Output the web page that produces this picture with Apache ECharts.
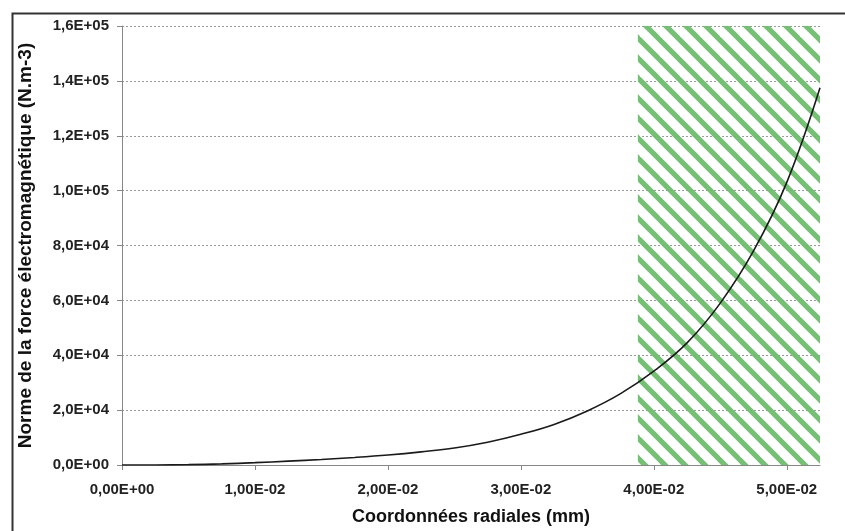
<!DOCTYPE html>
<html>
<head>
<meta charset="utf-8">
<script src="https://cdn.jsdelivr.net/npm/echarts@6/dist/echarts.min.js"></script>
<style>
html,body{margin:0;padding:0;background:#fff;}
#chart{width:845px;height:531px;}
</style>
</head>
<body>
<div id="chart"></div>
<script>
// ---- data ----
const xValues = [0, 0.0025, 0.005, 0.0075, 0.01, 0.0125, 0.015, 0.0175, 0.02, 0.0225, 0.025, 0.0275, 0.03, 0.0325, 0.035, 0.0375, 0.04, 0.0425, 0.045, 0.0475, 0.05, 0.0525];
const yValues = [0, 20, 120, 400, 850, 1400, 2000, 2750, 3650, 4800, 6200, 8300, 11200, 14800, 19700, 26000, 34200, 44500, 59000, 78000, 103000, 137500];
const xTicks = [0, 0.01, 0.02, 0.03, 0.04, 0.05];
const hatchRange = [0.0388, 0.0525];
const xAxisName = 'Coordonnées radiales (mm)';
const yAxisName = 'Norme de la force électromagnétique (N.m-3)';

function sci(v, dec) {
  if (v === 0) return (0).toFixed(dec).replace('.', ',') + 'E+00';
  let e = Math.floor(Math.log10(Math.abs(v)) + 1e-9);
  let m = v / Math.pow(10, e);
  let s = m.toFixed(dec).replace('.', ',');
  let es = (e < 0 ? '-' : '+') + String(Math.abs(e)).padStart(2, '0');
  return s + 'E' + es;
}

// hatch pattern
const pc = document.createElement('canvas');
pc.width = 20; pc.height = 20;
const ctx = pc.getContext('2d');
ctx.strokeStyle = '#6ebd6e';
ctx.lineWidth = 5.2;
for (let o = -20; o <= 20; o += 20) {
  ctx.beginPath();
  ctx.moveTo(o - 5, -5);
  ctx.lineTo(o + 25, 25);
  ctx.stroke();
}

const chart = echarts.init(document.getElementById('chart'), null, {renderer: 'canvas'});
const font = 'Liberation Sans, Arial, sans-serif';
chart.setOption({
  animation: false,
  backgroundColor: '#fff',
  grid: {left: 122, right: 25, top: 26, bottom: 66, containLabel: false},
  graphic: [{
    type: 'rect', left: 10, top: 11, silent: true,
    shape: {width: 900, height: 600},
    style: {fill: 'none', stroke: '#333', lineWidth: 2}
  }],
  xAxis: {
    type: 'value', min: 0, max: hatchRange[1], interval: 0.01,
    name: xAxisName, nameLocation: 'middle', nameGap: 43,
    nameTextStyle: {fontFamily: font, fontWeight: 'bold', fontSize: 18, color: '#111'},
    axisLine: {show: true, lineStyle: {color: '#888', width: 1}},
    axisTick: {show: true, length: 5, lineStyle: {color: '#888'}, customValues: xTicks},
    axisLabel: {margin: 17, fontFamily: font, fontWeight: 'bold', fontSize: 15, color: '#222',
      customValues: xTicks, formatter: v => sci(v, 2)},
    splitLine: {show: false}
  },
  yAxis: {
    type: 'value', min: 0, max: 160000, interval: 20000,
    name: yAxisName, nameLocation: 'middle', nameGap: 87,
    nameTextStyle: {fontFamily: font, fontWeight: 'bold', fontSize: 19, color: '#111'},
    axisLine: {show: true, lineStyle: {color: '#888', width: 1}},
    axisTick: {show: true, length: 5, lineStyle: {color: '#888'}},
    axisLabel: {margin: 13, fontFamily: font, fontWeight: 'bold', fontSize: 15, color: '#222',
      formatter: v => sci(v, 1)},
    splitLine: {show: true, lineStyle: {color: '#999', type: [2, 2], width: 1}}
  },
  series: [{
    type: 'line',
    data: xValues.map((x, i) => [x, yValues[i]]),
    smooth: 0.4,
    symbol: 'none',
    lineStyle: {color: '#1a1a1a', width: 1.6},
    markArea: {
      silent: true,
      itemStyle: {color: {image: pc, repeat: 'repeat'}, opacity: 0.95},
      data: [[{coord: [hatchRange[0], 0]}, {coord: [hatchRange[1], 160000]}]]
    }
  }]
});
</script>
</body>
</html>
